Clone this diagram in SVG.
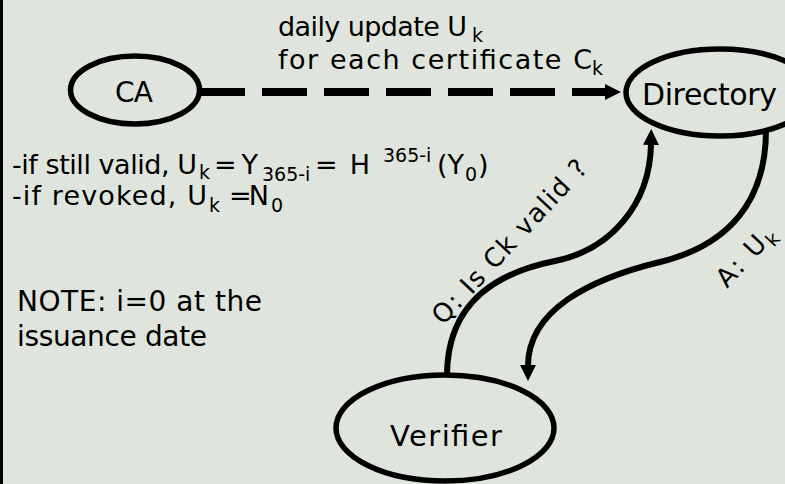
<svg xmlns="http://www.w3.org/2000/svg" width="785" height="484" viewBox="0 0 785 484">
  <style>
    text { font-family: "Comic Sans MS", "DejaVu Sans", sans-serif; fill: #000; }
    .t { font-size: 27px; }
    .s { font-size: 19px; }
    .node { fill: none; stroke: #000; stroke-width: 5.5; }
    .edge { fill: none; stroke: #000; stroke-width: 6; }
    .dash { fill: none; stroke: #000; stroke-width: 8; stroke-dasharray: 45 17; }
  </style>
  <defs>
    <marker id="arrow" markerUnits="userSpaceOnUse" viewBox="0 -9 18 18" markerWidth="18" markerHeight="18" refX="1" refY="0" orient="auto">
      <path d="M0,-8 L16,0 L0,8 Z" fill="#000"/>
    </marker>
  </defs>

  <!-- background and left rule -->
  <rect x="0" y="0" width="785" height="484" fill="#dfe5dc"/>
  <line x1="1.5" y1="0" x2="1.5" y2="484" stroke="#000" stroke-width="3"/>

  <!-- nodes -->
  <g id="ca">
    <ellipse class="node" cx="135" cy="90" rx="64.5" ry="34"/>
    <text x="115" y="102" font-size="28" textLength="38">CA</text>
  </g>
  <g id="directory">
    <ellipse class="node" cx="720" cy="92.5" rx="94" ry="43.5"/>
    <text x="642" y="105" font-size="30" textLength="135">Directory</text>
  </g>
  <g id="verifier">
    <ellipse class="node" cx="445" cy="428" rx="109" ry="53"/>
    <text x="390" y="446" font-size="29" textLength="112">Verifier</text>
  </g>

  <!-- connectors -->
  <g id="connectors">
    <path class="dash" d="M200,92 H606" marker-end="url(#arrow)"/>
    <path class="edge" d="M447,376 C447,300 500,272 555,261 C610,250 650,205 651,144" marker-end="url(#arrow)"/>
    <path class="edge" d="M766,130 C766,200 730,245 660,262 C590,279 528,310 528,366" marker-end="url(#arrow)"/>
  </g>

  <!-- label of the CA to Directory link -->
  <g id="update-label">
    <text class="t" x="278" y="36" textLength="189">daily update U</text>
    <text class="s" x="472" y="42">k</text>
    <text class="t" x="278" y="69" textLength="314">for each certificate C</text>
    <text class="s" x="592" y="75">k</text>
  </g>

  <!-- query and answer labels -->
  <g id="query-label" transform="translate(443,326) rotate(-47)">
    <text x="0" y="0" font-size="26" textLength="214">Q: Is Ck valid ?</text>
  </g>
  <g id="answer-label" transform="translate(727,289) rotate(-47)">
    <text x="0" y="0" font-size="26" textLength="60">A: U</text>
    <text class="s" x="62" y="6">k</text>
  </g>

  <!-- update rules -->
  <g id="rules">
    <text class="t" x="12" y="174" textLength="185">-if still valid, U</text>
    <text class="s" x="199" y="179">k</text>
    <text class="t" x="214" y="174" textLength="44">=Y</text>
    <text class="s" x="262" y="181">365-i</text>
    <text class="t" x="315" y="174" textLength="55">= H</text>
    <text class="s" x="383" y="162">365-i</text>
    <text class="t" x="437" y="174" textLength="27">(Y</text>
    <text class="s" x="465" y="181">0</text>
    <text class="t" x="478" y="174">)</text>

    <text class="t" x="12" y="205" textLength="195">-if revoked, U</text>
    <text class="s" x="209" y="212">k</text>
    <text class="t" x="229" y="205" textLength="40">=N</text>
    <text class="s" x="271" y="212">0</text>
  </g>

  <!-- note -->
  <g id="note">
    <text x="17" y="311" font-size="28" textLength="245">NOTE: i=0 at the</text>
    <text x="17" y="346" font-size="28" textLength="190">issuance date</text>
  </g>
</svg>
